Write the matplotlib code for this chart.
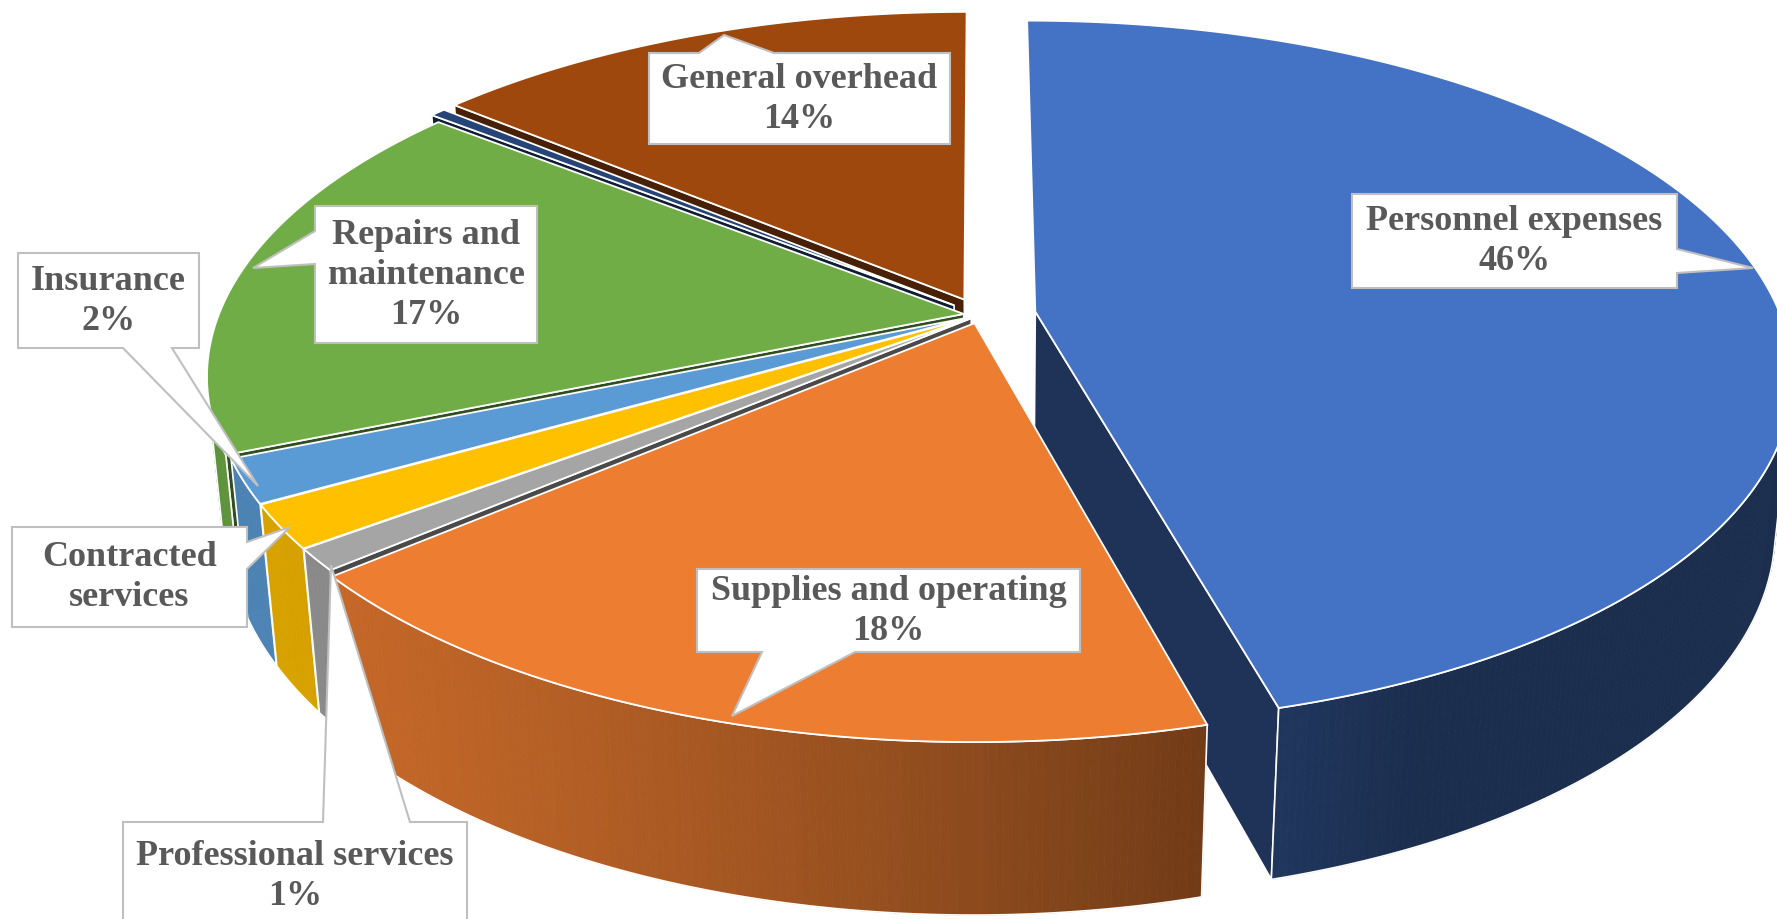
import numpy as np
import matplotlib.pyplot as plt
from matplotlib.patches import Polygon
from matplotlib.colors import to_rgb

categories = ['Personnel expenses', 'Supplies and operating', 'Professional services',
              'Contracted services', 'Insurance', 'Repairs and maintenance', 'Other',
              'General overhead']
shares = [46.0, 18.0, 1.0, 2.0, 2.0, 17.0, 0.4, 14.0]
colors = ['#4472C4', '#ED7D31', '#A5A5A5', '#FFC000', '#5B9BD5', '#70AD47', '#264478', '#9E480E']
explode = [0.075, 0.025, 0.015, 0.015, 0.015, 0.022, 0.045, 0.05]

# label text per slice, '%' line added from the data
label_lines = {
    0: ['Personnel expenses'],
    1: ['Supplies and operating'],
    2: ['Professional services'],
    3: ['Contracted', 'services'],
    4: ['Insurance'],
    5: ['Repairs and', 'maintenance'],
    7: ['General overhead'],
}
show_pct = {0: True, 1: True, 2: True, 3: False, 4: True, 5: True, 7: True}

# callout boxes: (x0, y0, x1, y1), tail side, tail base a, tail base b, tip
callouts = {
    0: ((1352, 195, 1677, 289), 'right', 250, 274, (1753, 269)),
    1: ((697, 570, 1080, 653), 'bottom', 762, 855, (732, 717)),
    2: ((123, 823, 467, 940), 'top', 323, 410, (331, 566)),
    3: ((12, 528, 247, 628), 'right', 543, 570, (290, 528)),
    4: ((18, 254, 199, 349), 'bottom', 123, 172, (258, 487)),
    5: ((315, 207, 537, 344), 'left', 232, 265, (253, 269)),
    7: ((649, 54, 950, 145), 'top', 699, 774, (724, 36)),
}

# perspective camera
S = 0.46
C = np.sqrt(1 - S ** 2)
L = 5.1
F = 3800
CX, CY = 980, 316
H = 0.234
CAM = np.array([0.0, L * S, -L * C])


def proj(x, y, z):
    d = L - y * S + z * C
    return CX + F * x / d, CY - F * (y * C + z * S) / d


def depth(x, y, z):
    return L - y * S + z * C


def shade(rgb, f):
    return tuple(np.clip(np.array(rgb) * f, 0, 1))


fig = plt.figure(figsize=(17.77, 9.2), dpi=100)
ax = fig.add_axes([0, 0, 1, 1])
ax.set_xlim(0, 1777)
ax.set_ylim(920, 0)
ax.axis('off')

total = sum(shares)
theta = np.concatenate([[0], np.cumsum(shares)]) / total * 360

walls = []
tops = []
for i, v in enumerate(shares):
    rgb = to_rgb(colors[i])
    ta = np.radians(90 - theta[i])
    tb = np.radians(90 - theta[i + 1])
    tm = (ta + tb) / 2
    ox, oz = explode[i] * np.cos(tm), explode[i] * np.sin(tm)
    n = max(int(abs(ta - tb) / np.radians(0.5)), 2)
    ts = np.linspace(ta, tb, n)

    top = [proj(ox, 0, oz)] + [proj(ox + np.cos(t), 0, oz + np.sin(t)) for t in ts]
    tops.append((top, colors[i]))

    # outer curved wall, split in strips for the shading
    strips = []
    for t0, t1 in zip(ts[:-1], ts[1:]):
        t = (t0 + t1) / 2
        vis = -(ox * np.cos(t) + oz * np.sin(t)) - 1 - L * C * np.sin(t)
        if vis <= 0:
            continue
        b = 0.40 + 0.45 * max(0.0, np.cos(t - np.radians(205)))
        quad = [proj(ox + np.cos(t0), 0, oz + np.sin(t0)),
                proj(ox + np.cos(t1), 0, oz + np.sin(t1)),
                proj(ox + np.cos(t1), -H, oz + np.sin(t1)),
                proj(ox + np.cos(t0), -H, oz + np.sin(t0))]
        strips.append((quad, shade(rgb, b), t0, t1))
    if strips:
        tmid = (strips[0][2] + strips[-1][3]) / 2
        d = depth(ox + np.cos(tmid), -H / 2, oz + np.sin(tmid))
        walls.append((d, 'outer', strips))

    # radial walls (skip the ones seen almost edge-on)
    for te, sgn in ((ta, 1), (tb, -1)):
        nn = np.array([np.cos(te + sgn * np.pi / 2), 0, np.sin(te + sgn * np.pi / 2)])
        p = np.array([ox + 0.5 * np.cos(te), -H / 2, oz + 0.5 * np.sin(te)])
        if np.dot(nn, CAM - p) <= 0.1:
            continue
        quad = [proj(ox, 0, oz), proj(ox + np.cos(te), 0, oz + np.sin(te)),
                proj(ox + np.cos(te), -H, oz + np.sin(te)), proj(ox, -H, oz)]
        walls.append((depth(*p), 'radial', (quad, shade(rgb, 0.45))))

walls.sort(key=lambda w: -w[0])
z = 1
for d, kind, data in walls:
    if kind == 'outer':
        for quad, col, _, _ in data:
            ax.add_patch(Polygon(quad, closed=True, facecolor=col, edgecolor=col,
                                 lw=0.6, zorder=z))
        outline = [q[0][0] for q in data] + [data[-1][0][1], data[-1][0][2]] + \
                  [q[0][3] for q in data[::-1]]
        ax.add_patch(Polygon(outline, closed=True, facecolor='none', edgecolor='white',
                             lw=1.2, zorder=z + 0.5))
    else:
        quad, col = data
        ax.add_patch(Polygon(quad, closed=True, facecolor=col, edgecolor='white',
                             lw=1.2, zorder=z))
    z += 1

for top, col in tops:
    ax.add_patch(Polygon(top, closed=True, facecolor=col, edgecolor='white',
                         lw=1.3, zorder=z))

# callout labels
zl = z + 10
for i, (box, side, a, b, tip) in callouts.items():
    x0, y0, x1, y1 = box
    if side == 'top':
        pts = [(x0, y0), (a, y0), tip, (b, y0), (x1, y0), (x1, y1), (x0, y1)]
    elif side == 'bottom':
        pts = [(x0, y0), (x1, y0), (x1, y1), (b, y1), tip, (a, y1), (x0, y1)]
    elif side == 'left':
        pts = [(x0, y0), (x1, y0), (x1, y1), (x0, y1), (x0, b), tip, (x0, a)]
    else:
        pts = [(x0, y0), (x1, y0), (x1, a), tip, (x1, b), (x1, y1), (x0, y1)]
    ax.add_patch(Polygon(pts, closed=True, facecolor='white', edgecolor='#BFBFBF',
                         lw=1.5, zorder=zl))
    lines = list(label_lines[i])
    if show_pct[i]:
        lines.append(f'{round(shares[i] / total * 100):.0f}%')
    ty = (y0 + min(y1, 920)) / 2 if i != 2 else 877
    ax.text((x0 + x1) / 2, ty, '\n'.join(lines), ha='center', va='center',
            fontsize=26, fontweight='bold', family='Liberation Serif',
            color='#595959', linespacing=1.28, zorder=zl + 1)

fig.savefig('out.png', dpi=100)
